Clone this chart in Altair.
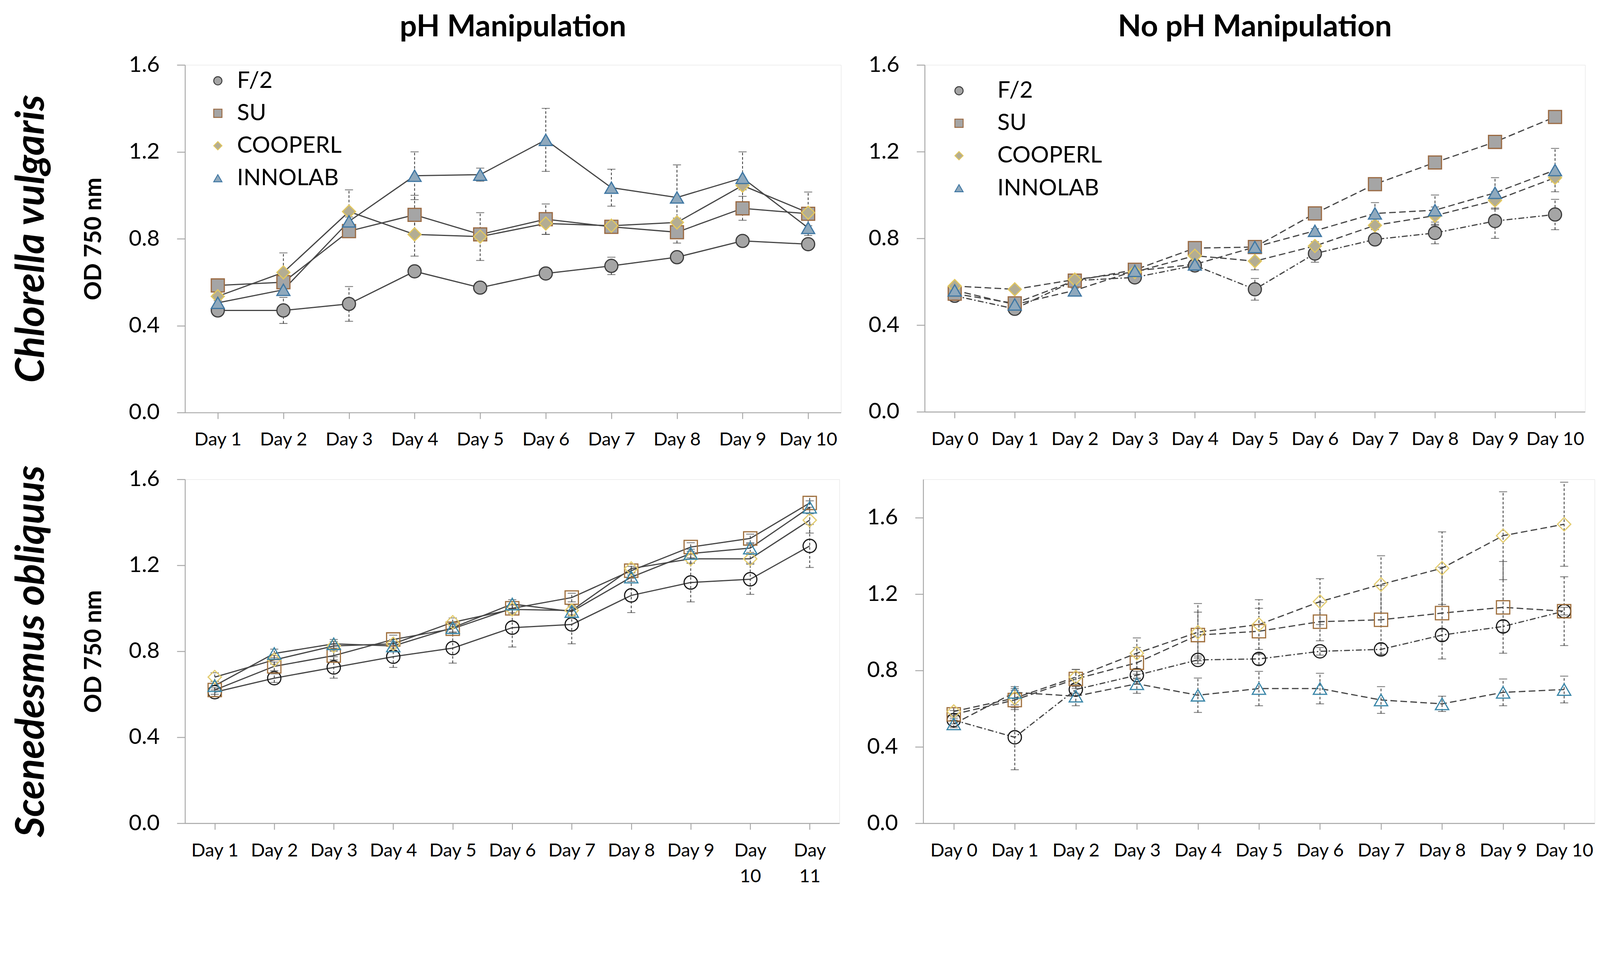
import altair as alt
import pandas as pd

SERIES = ["F/2", "SU", "COOPERL", "INNOLAB"]
SHAPES = ["circle", "square", "diamond", "triangle-up"]
SPECIES = ["Chlorella vulgaris", "Scenedesmus obliquus"]

# ---- Panel A: pH Manipulation, Chlorella vulgaris ----
days_a = ["Day 1", "Day 2", "Day 3", "Day 4", "Day 5", "Day 6", "Day 7", "Day 8", "Day 9", "Day 10"]
a_f2 = [0.47, 0.47, 0.50, 0.65, 0.575, 0.64, 0.675, 0.715, 0.79, 0.775]
a_f2_err = [0.01, 0.06, 0.08, 0.01, 0.01, 0.01, 0.04, 0.01, 0.01, 0.01]
a_su = [0.585, 0.60, 0.835, 0.91, 0.82, 0.89, 0.855, 0.83, 0.94, 0.915]
a_su_err = [0.01, 0.02, 0.02, 0.09, 0.01, 0.07, 0.01, 0.05, 0.055, 0.10]
a_coop = [0.535, 0.645, 0.925, 0.82, 0.81, 0.87, 0.86, 0.875, 1.045, 0.92]
a_coop_err = [0.01, 0.09, 0.10, 0.10, 0.11, 0.05, 0.01, 0.02, 0.02, 0.02]
a_inno = [0.505, 0.565, 0.88, 1.09, 1.095, 1.255, 1.035, 0.99, 1.08, 0.85]
a_inno_err = [0.01, 0.02, 0.02, 0.11, 0.03, 0.145, 0.085, 0.15, 0.12, 0.01]

# ---- Panel B: No pH Manipulation, Chlorella vulgaris ----
days_b = ["Day 0", "Day 1", "Day 2", "Day 3", "Day 4", "Day 5", "Day 6", "Day 7", "Day 8", "Day 9", "Day 10"]
b_f2 = [0.535, 0.475, 0.605, 0.62, 0.675, 0.565, 0.73, 0.795, 0.825, 0.88, 0.91]
b_f2_err = [0.01, 0.01, 0.01, 0.01, 0.02, 0.05, 0.04, 0.01, 0.05, 0.08, 0.07]
b_su = [0.545, 0.50, 0.605, 0.655, 0.755, 0.76, 0.915, 1.05, 1.15, 1.245, 1.36]
b_su_err = [0.01, 0.01, 0.01, 0.01, 0.01, 0.01, 0.01, 0.01, 0.01, 0.01, 0.01]
b_coop = [0.58, 0.565, 0.61, 0.645, 0.72, 0.695, 0.765, 0.86, 0.905, 0.975, 1.08]
b_coop_err = [0.01, 0.01, 0.01, 0.01, 0.01, 0.04, 0.02, 0.02, 0.04, 0.04, 0.02]
b_inno = [0.56, 0.495, 0.56, 0.65, 0.68, 0.76, 0.835, 0.915, 0.93, 1.01, 1.115]
b_inno_err = [0.01, 0.01, 0.01, 0.01, 0.01, 0.01, 0.01, 0.05, 0.07, 0.07, 0.10]

# ---- Panel C: pH Manipulation, Scenedesmus obliquus ----
days_c = ["Day 1", "Day 2", "Day 3", "Day 4", "Day 5", "Day 6", "Day 7", "Day 8", "Day 9", "Day 10", "Day 11"]
c_f2 = [0.61, 0.675, 0.725, 0.775, 0.815, 0.91, 0.925, 1.06, 1.12, 1.135, 1.29]
c_f2_err = [0.02, 0.02, 0.05, 0.05, 0.07, 0.09, 0.09, 0.08, 0.09, 0.07, 0.10]
c_su = [0.62, 0.73, 0.78, 0.855, 0.905, 1.0, 1.05, 1.175, 1.285, 1.325, 1.49]
c_su_err = [0.02, 0.02, 0.02, 0.02, 0.02, 0.02, 0.02, 0.02, 0.02, 0.02, 0.03]
c_coop = [0.68, 0.76, 0.825, 0.835, 0.935, 0.995, 0.99, 1.185, 1.23, 1.23, 1.41]
c_coop_err = [0.02, 0.02, 0.02, 0.02, 0.02, 0.02, 0.02, 0.02, 0.02, 0.02, 0.06]
c_inno = [0.64, 0.79, 0.835, 0.825, 0.91, 1.02, 0.985, 1.145, 1.255, 1.28, 1.47]
c_inno_err = [0.02, 0.02, 0.02, 0.02, 0.02, 0.02, 0.02, 0.02, 0.02, 0.02, 0.03]

# ---- Panel D: No pH Manipulation, Scenedesmus obliquus ----
days_d = ["Day 0", "Day 1", "Day 2", "Day 3", "Day 4", "Day 5", "Day 6", "Day 7", "Day 8", "Day 9", "Day 10"]
d_f2 = [0.54, 0.45, 0.70, 0.775, 0.855, 0.86, 0.90, 0.91, 0.985, 1.03, 1.11]
d_f2_err = [0.02, 0.17, 0.02, 0.02, 0.02, 0.03, 0.02, 0.03, 0.03, 0.03, 0.02]
d_su = [0.57, 0.645, 0.755, 0.84, 0.985, 1.005, 1.055, 1.065, 1.10, 1.13, 1.11]
d_su_err = [0.02, 0.05, 0.05, 0.08, 0.12, 0.12, 0.10, 0.18, 0.24, 0.24, 0.18]
d_coop = [0.585, 0.655, 0.765, 0.89, 1.0, 1.04, 1.16, 1.25, 1.335, 1.505, 1.565]
d_coop_err = [0.02, 0.05, 0.04, 0.08, 0.15, 0.13, 0.12, 0.15, 0.19, 0.23, 0.22]
d_inno = [0.52, 0.685, 0.665, 0.73, 0.67, 0.705, 0.705, 0.645, 0.625, 0.685, 0.70]
d_inno_err = [0.02, 0.03, 0.05, 0.05, 0.09, 0.09, 0.08, 0.07, 0.04, 0.07, 0.07]

Y_TICKS = [0.0, 0.4, 0.8, 1.2, 1.6]

STROKE_TOP = ["#3c3c3c", "#9b6a42", "#e2c75e", "#3f77a3"]
FILL_TOP = ["#a5a5a5", "#a5a5a5", "#b3ad93", "#8fa9bd"]
STROKE_BOT = ["#1a1a1a", "#a0703e", "#e3cc70", "#3a86a8"]
DASH_TR = [[16, 6, 4, 6], [18, 9], [18, 9], [18, 9]]
DASH_BR = [[18, 9], [18, 9], [18, 9], [18, 9]]

FONT = "Lato"
AXIS_GREY = "#a6a6a6"


def make_df(days, vals, errs):
    rows = []
    for s, v_list, e_list in zip(SERIES, vals, errs):
        for d, v, e in zip(days, v_list, e_list):
            rows.append({"Day": d, "Series": s, "OD": v, "lo": v - e, "hi": v + e})
    return pd.DataFrame(rows)


def panel(df, days, dashes, filled, ymax, width, height,
          legend_xy=None, label_offset=50, title=None, ytitle=None, multiline=False):
    xaxis_kw = dict(title=None, labelAngle=0, labelFontSize=50, labelFont=FONT,
                    labelColor="black", ticks=True, tickSize=17, tickWidth=2.5,
                    tickColor=AXIS_GREY, domainColor=AXIS_GREY, domainWidth=2.5,
                    labelPadding=32)
    if multiline:
        xaxis_kw["labelExpr"] = "length(datum.label) > 5 ? split(datum.label, ' ') : datum.label"
        xaxis_kw["labelLineHeight"] = 70
    xaxis = alt.Axis(**xaxis_kw)
    x = alt.X("Day:N", sort=days, scale=alt.Scale(type="point", padding=0.5), axis=xaxis)

    yaxis_kw = dict(values=Y_TICKS, format=".1f", grid=False, labelFontSize=60,
                    labelFont=FONT, labelColor="black", tickSize=22, tickWidth=2.5,
                    tickColor=AXIS_GREY, domainColor=AXIS_GREY, domainWidth=2.5,
                    labelPadding=47)
    if ytitle:
        yaxis_kw.update(title=ytitle, titleFontSize=64, titleFont=FONT,
                        titleFontWeight="bold", titleColor="black", titlePadding=62)
    else:
        yaxis_kw.update(title=None)
    yaxis = alt.Axis(**yaxis_kw)
    yscale = alt.Scale(domain=[0, ymax], nice=False, zero=True)
    y = alt.Y("OD:Q", scale=yscale, axis=yaxis)

    base = alt.Chart(df)

    if dashes is not None:
        line = base.mark_line(strokeWidth=3.2, color="#454545").encode(
            x=x, y=y, detail="Series:N",
            strokeDash=alt.StrokeDash("Series:N", scale=alt.Scale(domain=SERIES, range=dashes),
                                      legend=None),
        )
    else:
        line = base.mark_line(strokeWidth=3.2, color="#454545").encode(
            x=x, y=y, detail="Series:N")

    err = base.mark_rule(strokeWidth=2.2, color="#3a3a3a", strokeDash=[7, 5]).encode(
        x=x, y=alt.Y("lo:Q", scale=yscale, axis=yaxis), y2="hi:Q")
    cap_lo = base.mark_tick(size=22, thickness=2.2, color="#3a3a3a").encode(
        x=x, y=alt.Y("lo:Q", scale=yscale, axis=yaxis))
    cap_hi = base.mark_tick(size=22, thickness=2.2, color="#3a3a3a").encode(
        x=x, y=alt.Y("hi:Q", scale=yscale, axis=yaxis))

    if legend_xy is not None:
        leg = alt.Legend(title=None, orient="none", legendX=legend_xy[0],
                         legendY=legend_xy[1], labelFontSize=62, labelFont=FONT,
                         labelColor="black", labelLimit=0, symbolSize=500,
                         symbolStrokeWidth=2.5, rowPadding=26, labelOffset=label_offset,
                         padding=0)
    else:
        leg = None

    shape = alt.Shape("Series:N", scale=alt.Scale(domain=SERIES, range=SHAPES), legend=leg)
    if filled:
        stroke = alt.Stroke("Series:N", scale=alt.Scale(domain=SERIES, range=STROKE_TOP), legend=leg)
        fill = alt.Fill("Series:N", scale=alt.Scale(domain=SERIES, range=FILL_TOP), legend=leg)
        pts = base.mark_point(filled=True, opacity=1, fillOpacity=1, strokeWidth=3.2, size=1250).encode(
            x=x, y=y, shape=shape, stroke=stroke, fill=fill)
    else:
        stroke = alt.Stroke("Series:N", scale=alt.Scale(domain=SERIES, range=STROKE_BOT), legend=leg)
        pts = base.mark_point(filled=False, opacity=1, strokeWidth=3.2, size=1300).encode(
            x=x, y=y, shape=shape, stroke=stroke)

    ch = alt.layer(line, err, cap_lo, cap_hi, pts).properties(width=width, height=height)
    if title:
        ch = ch.properties(title=alt.TitleParams(title, fontSize=82, font=FONT, fontWeight="bold",
                                                 color="black", anchor="middle", offset=30))
    return ch


def species_label(name, height, size):
    return alt.Chart(pd.DataFrame({"label": [name]})).mark_text(
        angle=270, align="center", baseline="middle", fontSize=size, font=FONT,
        fontStyle="italic", fontWeight="bold", color="black"
    ).encode(text="label:N").properties(width=126, height=height)


df_a = make_df(days_a, [a_f2, a_su, a_coop, a_inno], [a_f2_err, a_su_err, a_coop_err, a_inno_err])
df_b = make_df(days_b, [b_f2, b_su, b_coop, b_inno], [b_f2_err, b_su_err, b_coop_err, b_inno_err])
df_c = make_df(days_c, [c_f2, c_su, c_coop, c_inno], [c_f2_err, c_su_err, c_coop_err, c_inno_err])
df_d = make_df(days_d, [d_f2, d_su, d_coop, d_inno], [d_f2_err, d_su_err, d_coop_err, d_inno_err])

pa = panel(df_a, days_a, dashes=None, filled=True, ymax=1.6, width=1778, height=942,
           legend_xy=(58, 12), label_offset=21, title="pH Manipulation", ytitle="OD 750 nm")
pb = panel(df_b, days_b, dashes=DASH_TR, filled=True, ymax=1.6, width=1790, height=940,
           legend_xy=(62, 39), label_offset=73, title="No pH Manipulation")
pc = panel(df_c, days_c, dashes=None, filled=False, ymax=1.6, width=1774, height=932,
           ytitle="OD 750 nm", multiline=True)
pd_ = panel(df_d, days_d, dashes=DASH_BR, filled=False, ymax=1.8, width=1820, height=932)

lab1 = species_label(SPECIES[0], 942, 108)
lab2 = species_label(SPECIES[1], 932, 107)

row1 = alt.hconcat(lab1, pa, pb, spacing=72).resolve_scale(
    x="independent", y="independent", shape="independent", fill="independent",
    stroke="independent").resolve_legend(shape="independent", fill="independent",
                                         stroke="independent")
row2 = alt.hconcat(lab2, pc, pd_, spacing=72).resolve_scale(
    x="independent", y="independent")

chart = alt.vconcat(row1, row2, spacing=43).properties(
    padding={"left": 15, "top": -45, "right": 5, "bottom": 5}
).configure_view(stroke=None).configure(font=FONT, background="white")

chart.save("out.html", embed_options={"renderer": "svg", "actions": False})
